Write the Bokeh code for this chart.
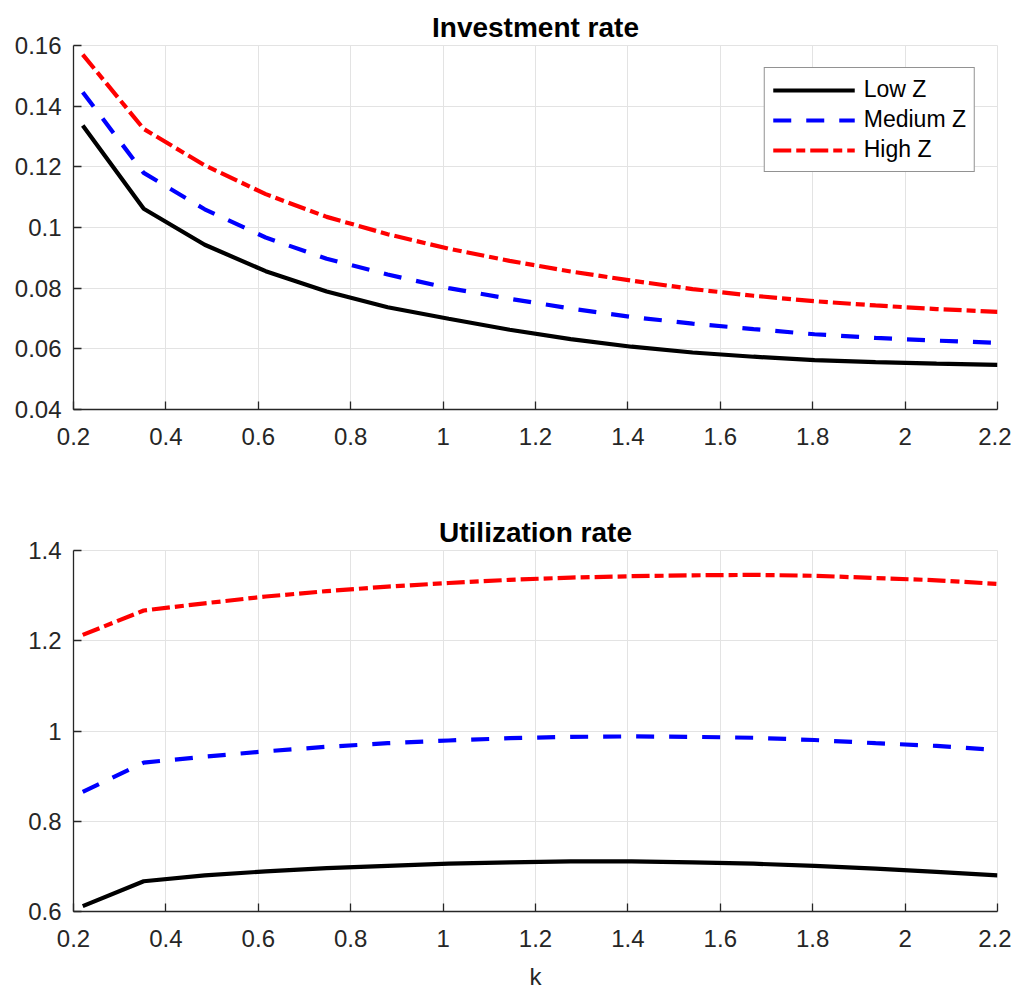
from bokeh.plotting import figure
from bokeh.layouts import column
from bokeh.models import Range1d, FixedTicker, Legend, LegendItem
from bokeh.embed import file_html
from bokeh.resources import INLINE

# ---- data ----
k = [0.22, 0.352, 0.484, 0.616, 0.748, 0.88, 1.012, 1.144, 1.276, 1.408,
     1.54, 1.672, 1.804, 1.936, 2.068, 2.2]

inv_low = [0.1336, 0.1062, 0.0943, 0.0856, 0.0789, 0.0737, 0.0699, 0.0663,
           0.0632, 0.0607, 0.0588, 0.0574, 0.0563, 0.0556, 0.0551, 0.0547]
inv_med = [0.1446, 0.1180, 0.1060, 0.0967, 0.0897, 0.0845, 0.0800, 0.0765,
           0.0733, 0.0705, 0.0683, 0.0665, 0.0648, 0.0636, 0.0627, 0.0620]
inv_high = [0.1570, 0.1325, 0.1205, 0.1110, 0.1035, 0.0978, 0.0930, 0.0890,
            0.0855, 0.0825, 0.0797, 0.0775, 0.0757, 0.0743, 0.0731, 0.0722]

util_low = [0.612, 0.667, 0.680, 0.689, 0.696, 0.701, 0.706, 0.709,
            0.711, 0.711, 0.709, 0.706, 0.701, 0.695, 0.688, 0.680]
util_med = [0.865, 0.930, 0.943, 0.955, 0.965, 0.973, 0.979, 0.984,
            0.987, 0.988, 0.987, 0.985, 0.980, 0.973, 0.967, 0.958]
util_high = [1.213, 1.267, 1.283, 1.298, 1.310, 1.320, 1.328, 1.335,
             1.340, 1.343, 1.345, 1.346, 1.344, 1.339, 1.334, 1.326]

series_names = ["Low Z", "Medium Z", "High Z"]
x_ticks = [0.2, 0.4, 0.6, 0.8, 1.0, 1.2, 1.4, 1.6, 1.8, 2.0, 2.2]
x_tick_labels = ["0.2", "0.4", "0.6", "0.8", "1", "1.2", "1.4", "1.6", "1.8", "2", "2.2"]
inv_ticks = [0.04, 0.06, 0.08, 0.10, 0.12, 0.14, 0.16]
inv_tick_labels = ["0.04", "0.06", "0.08", "0.1", "0.12", "0.14", "0.16"]
util_ticks = [0.6, 0.8, 1.0, 1.2, 1.4]
util_tick_labels = ["0.6", "0.8", "1", "1.2", "1.4"]

FONT = "Liberation Sans"
AX = "#262626"
GRID = "#e3e3e3"
styles = [dict(color="black", line_dash="solid"),
          dict(color="#0000ff", line_dash="18 15"),
          dict(color="#ff0000", line_dash="18 5 9 5")]


def make_fig(title, ys, yrange, yticks, ylabels, height, top, bottom, legend, xlabel=None):
    p = figure(width=1011, height=height, output_backend="svg", toolbar_location=None,
               x_range=Range1d(0.2, 2.2), y_range=Range1d(*yrange),
               min_border_left=73, min_border_right=14,
               min_border_top=top, min_border_bottom=bottom)
    p.title.text = title
    p.title.align = "center"
    p.title.text_font = FONT
    p.title.text_font_size = "28px"
    p.title.text_font_style = "bold"
    p.title.text_color = "black"
    p.title.standoff = 6
    p.outline_line_color = GRID
    p.outline_line_width = 1
    p.background_fill_color = "white"
    p.border_fill_color = "white"

    for ax in (p.xaxis[0], p.yaxis[0]):
        ax.axis_line_color = AX
        ax.axis_line_width = 1.3
        ax.major_tick_line_color = AX
        ax.major_tick_line_width = 1.3
        ax.major_tick_in = 8
        ax.major_tick_out = 0
        ax.minor_tick_line_color = None
        ax.major_label_text_font = FONT
        ax.major_label_text_font_size = "24px"
        ax.major_label_text_color = AX
    p.xaxis.ticker = FixedTicker(ticks=x_ticks)
    p.xaxis.major_label_overrides = {t: l for t, l in zip(x_ticks, x_tick_labels)}
    p.xaxis.major_label_standoff = 18
    p.yaxis.ticker = FixedTicker(ticks=yticks)
    p.yaxis.major_label_overrides = {t: l for t, l in zip(yticks, ylabels)}
    p.yaxis.major_label_standoff = 12
    if xlabel:
        p.xaxis.axis_label = xlabel
        p.xaxis.axis_label_text_font = FONT
        p.xaxis.axis_label_text_font_size = "24px"
        p.xaxis.axis_label_text_font_style = "normal"
        p.xaxis.axis_label_text_color = AX
        p.xaxis.axis_label_standoff = 13

    p.xgrid.grid_line_color = GRID
    p.ygrid.grid_line_color = GRID
    p.xgrid.grid_line_width = 1
    p.ygrid.grid_line_width = 1

    items = []
    for name, y, st in zip(series_names, ys, styles):
        r = p.line(k, y, line_color=st["color"], line_width=4.2, line_dash=st["line_dash"])
        items.append(LegendItem(label=name, renderers=[r]))

    if legend:
        lg = Legend(items=items, location="top_right", margin=22,
                    label_text_font=FONT, label_text_font_size="23px",
                    label_text_color="black",
                    glyph_width=82, glyph_height=20, label_standoff=9,
                    spacing=3, padding=8, border_line_color=AX,
                    border_line_width=1.3, background_fill_alpha=1.0)
        p.add_layout(lg)
    return p


p1 = make_fig("Investment rate", [inv_low, inv_med, inv_high], (0.04, 0.16),
              inv_ticks, inv_tick_labels, 490, 45, 81, True)
p2 = make_fig("Utilization rate", [util_low, util_med, util_high], (0.6, 1.4),
              util_ticks, util_tick_labels, 502, 60, 78, False, xlabel="k")

layout = column(p1, p2, spacing=0)
open("out.html", "w").write(file_html(layout, INLINE))
